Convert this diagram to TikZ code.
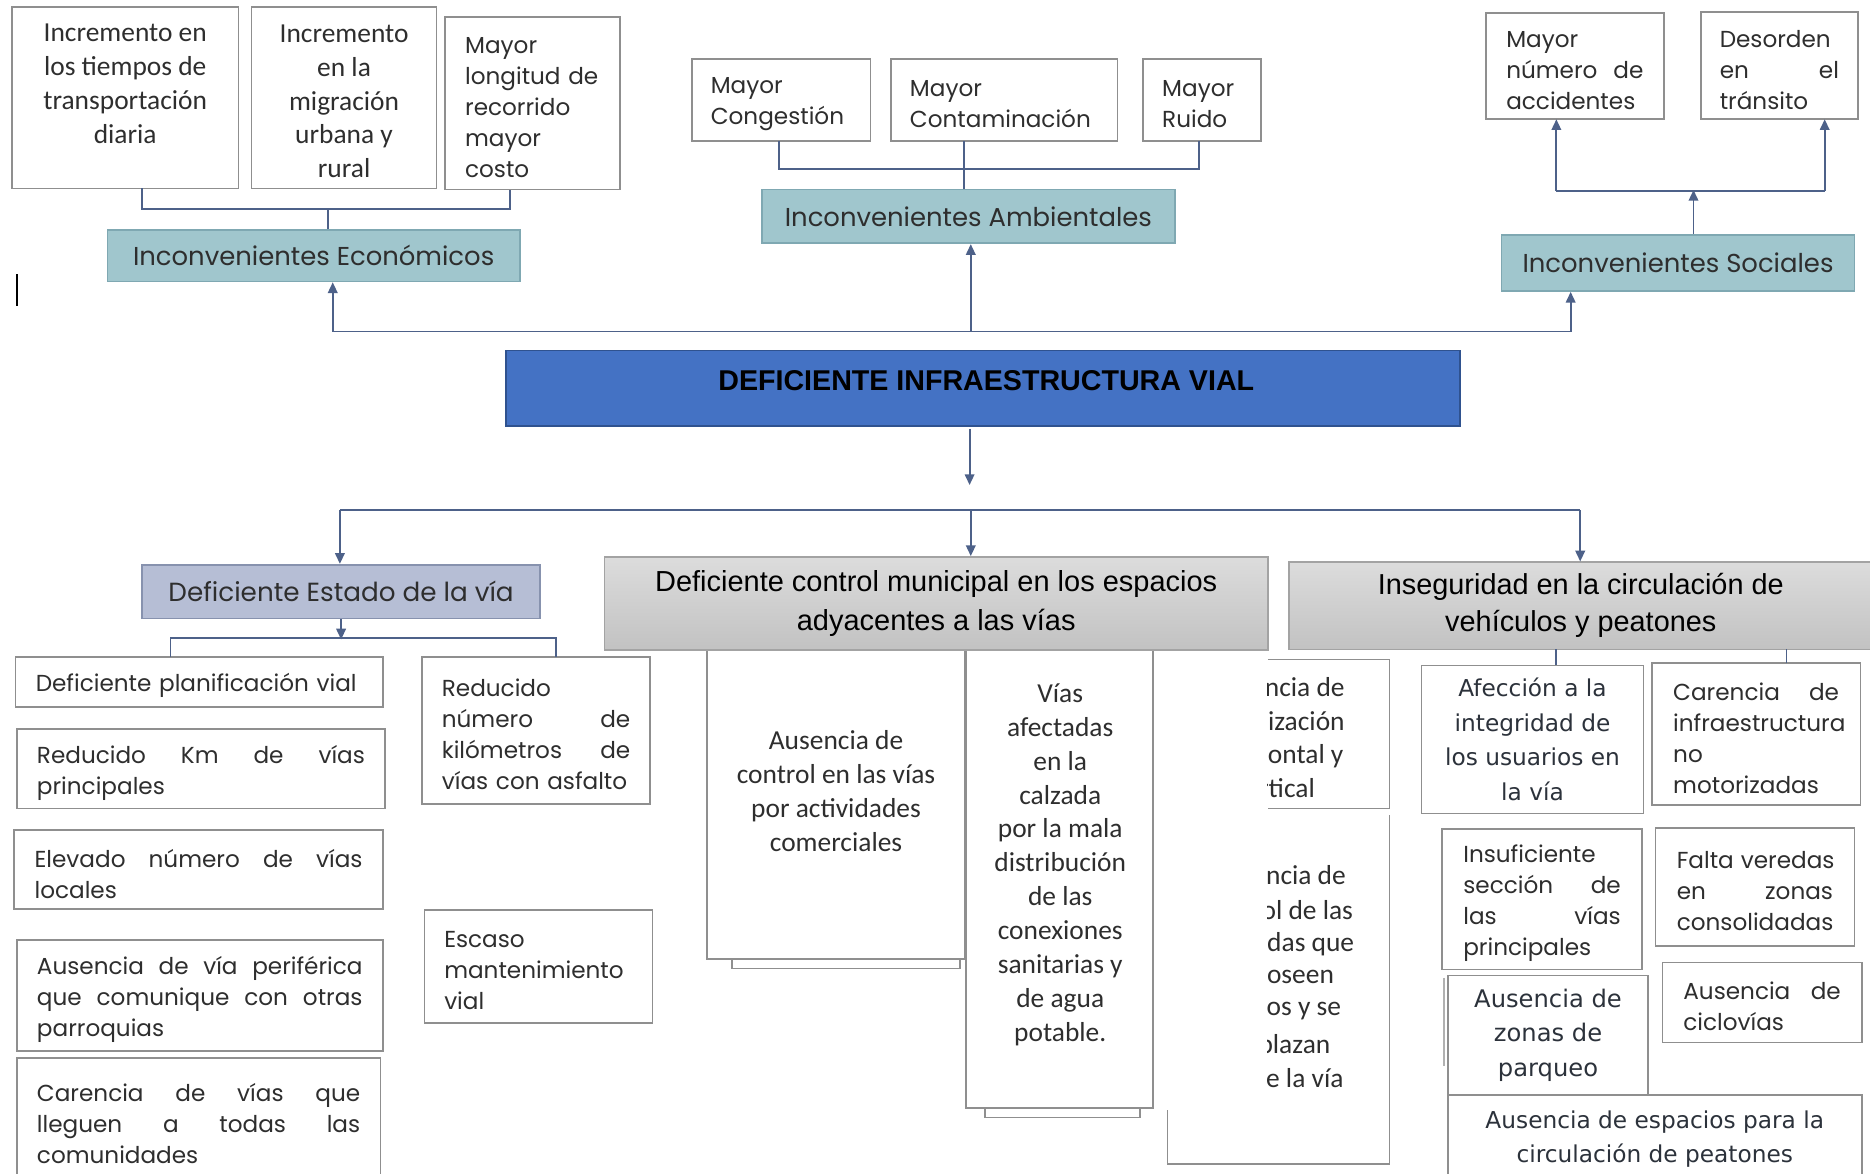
\documentclass[tikz,border=0pt]{standalone}
\usepackage{fontspec}
\setmainfont{Carlito}
\newfontfamily\cgf{Poppins}
\newfontfamily\arialf{Liberation Sans}
\newfontfamily\verdf{DejaVu Sans}
\usetikzlibrary{arrows.meta,calc}
\definecolor{conc}{HTML}{4D6189}
\definecolor{bxc}{HTML}{8F8F8F}
\definecolor{tealf}{HTML}{A0C6CD}
\definecolor{teald}{HTML}{7FA8B2}
\definecolor{estf}{HTML}{B6BED5}
\definecolor{estd}{HTML}{8792AE}
\definecolor{mainf}{HTML}{4472C4}
\definecolor{maind}{HTML}{2F528F}
\definecolor{gtop}{HTML}{DCDCDC}
\definecolor{gbot}{HTML}{C2C2C2}
\definecolor{gd}{HTML}{A3A3A3}
\definecolor{txg}{HTML}{2E2E2E}
\definecolor{txv}{HTML}{2C323B}
\hyphenpenalty=10000
\exhyphenpenalty=10000
\newcommand{\jl}[2]{\leavevmode\hbox to #1pt{\spaceskip=0.3em plus 1fil\relax #2}}
\tikzset{
 bx/.style={draw=bxc, line width=1.4pt, fill=white, inner sep=0pt, outer sep=0pt},
 con/.style={draw=conc, line width=1.6pt},
 arr/.style={con, -{Triangle[length=9pt,width=8pt]}},
 hd/.style={draw=teald, fill=tealf, line width=1.4pt, inner sep=0pt, text=txg, font=\cgf\fontsize{21.7}{26}\selectfont},
 cgs/.style={text=txg, font=\cgf\fontsize{19.4}{26}\selectfont, execute at end node={\par\vspace{-7pt}}},
 cal/.style={text=txg, font=\fontsize{23}{28.4}\selectfont},
 vd/.style={text=txv, font=\verdf\fontsize{19.5}{29}\selectfont},
 gb/.style={draw=gd, line width=1.4pt, top color=gtop, bottom color=gbot, inner sep=0pt},
}
\begin{document}
\begin{tikzpicture}[x=1pt,y=-1pt]
\useasboundingbox (0,0) rectangle (1568,984);
\fill[white] (0,0) rectangle (1568,984);

% ---------- top left: economic ----------
\node[bx, minimum width=190pt, minimum height=152pt] (a1) at (105,82) {};
\node[cal, align=center] (a1t) at (105,70.5) {Incremento en\\los tiempos de\\transportación\\diaria};
\node[bx, minimum width=155pt, minimum height=152pt] (a2) at (288.5,82) {};
\node[cal, align=center] (a2t) at (288.5,85) {Incremento\\en la\\migración\\urbana y\\rural};
\node[bx, cgs, align=left, text width=113pt, minimum width=147pt, minimum height=145pt] (a3) at (446.5,86.5) {Mayor\\longitud de\\recorrido\\mayor\\costo};
\node[hd, minimum width=346pt, minimum height=43pt] (econ) at (263,214.5) {Inconvenientes Económicos};
\draw[black, line width=1.5pt] (14,230) -- (14,257);

% ---------- top middle: environmental ----------
\node[bx, cgs, align=left, text width=118pt, minimum width=150pt, minimum height=69pt] (b1) at (655,84) {Mayor\\Congestión};
\node[bx, cgs, align=left, text width=158pt, minimum width=190pt, minimum height=69pt] (b2) at (842,84) {Mayor\\Contaminación};
\node[bx, cgs, align=left, text width=67pt, minimum width=99pt, minimum height=69pt] (b3) at (1008,84) {Mayor\\Ruido};
\node[hd, minimum width=346pt, minimum height=45pt] (amb) at (812,181.5) {Inconvenientes Ambientales};

% ---------- top right: social ----------
\node[bx, cgs, align=left, text width=115pt, minimum width=149pt, minimum height=89pt] (c1) at (1320.5,55.5) {Mayor\\\jl{115}{número de}\\accidentes};
\node[bx, cgs, align=left, text width=100pt, minimum width=132pt, minimum height=90pt] (c2) at (1492,55) {Desorden\\\jl{100}{en el}\\tránsito};
\node[hd, minimum width=296pt, minimum height=47pt] (soc) at (1407,220.5) {Inconvenientes Sociales};

% ---------- central problem ----------
\node[draw=maind, fill=mainf, line width=1.4pt, minimum width=800pt, minimum height=63pt] (main) at (824,325.5) {};
\node[font=\arialf\bfseries\fontsize{24}{28}\selectfont, text=black] (maint) at (827,319) {DEFICIENTE INFRAESTRUCTURA VIAL};

% ---------- left branch ----------
\node[draw=estd, fill=estf, line width=1.4pt, text=txg, font=\cgf\fontsize{22}{26}\selectfont, minimum width=334pt, minimum height=45pt] (estado) at (286,496) {Deficiente Estado de la vía};
\node[bx, cgs, align=left, text width=274pt, minimum width=308pt, minimum height=42pt] (d1) at (167,572) {Deficiente planificación vial};
\node[bx, cgs, align=left, text width=275pt, minimum width=309pt, minimum height=67pt] (d2) at (168.5,644.5) {\jl{275}{Reducido Km de vías}\\principales};
\node[bx, cgs, align=left, text width=275pt, minimum width=309pt, minimum height=66pt] (d3) at (166.5,729) {\jl{275}{Elevado número de vías}\\locales};
\node[bx, cgs, align=left, text width=273pt, minimum width=307pt, minimum height=93pt] (d4) at (167.5,834.5) {\jl{273}{Ausencia de vía periférica}\\\jl{273}{que comunique con otras}\\parroquias};
\node[bx, cgs, align=left, text width=271pt, minimum width=305pt, minimum height=103pt] (d5) at (166.5,938.5) {\jl{271}{Carencia de vías que}\\\jl{271}{lleguen a todas las}\\comunidades};
\node[bx, cgs, align=left, text width=158pt, minimum width=191pt, minimum height=123pt] (d6) at (449.5,612.5) {Reducido\\\jl{158}{número de}\\\jl{158}{kilómetros de}\\vías con asfalto};
\node[bx, cgs, align=left, text width=158pt, minimum width=191pt, minimum height=95pt] (d7) at (451.5,810.5) {Escaso\\mantenimiento\\vial};

% ---------- middle branch ----------
\node[bx, minimum width=191pt, minimum height=272pt] (e1b) at (709.5,676) {};
\node[bx, minimum width=216pt, minimum height=264pt] (e1) at (701,672) {};
\node[cal, align=center] (e1t) at (701,663.5) {Ausencia de\\control en las vías\\por actividades\\comerciales};
\node[bx, minimum width=130pt, minimum height=397pt] (e2b) at (891,738.5) {};
\node[bx, minimum width=157pt, minimum height=389pt] (e2) at (888.5,734.5) {};
\node[cal, align=center] (e2t) at (889,725) {Vías\\afectadas\\en la\\calzada\\por la mala\\distribución\\de las\\conexiones\\sanitarias y\\de agua\\potable.};
\draw[bxc, line width=1.4pt] (1063,553) -| (1165,678) -- (1063,678);
\draw[bxc, line width=1.4pt] (979,931) |- (1165,976) -- (1165,683);
\begin{scope}
\clip (1063,545) rectangle (1163,990);
\node[cal, anchor=east] (e3a) at (1131,576) {ncia de};
\node[cal, anchor=east] (e3b) at (1131,605) {ización};
\node[cal, anchor=east] (e3c) at (1130,634) {ontal y};
\node[cal, anchor=east] (e3d) at (1106,661) {rtical};
\node[cal, anchor=east] (e3e) at (1132,734) {ncia de};
\node[cal, anchor=east] (e3f) at (1138,763) {ol de las};
\node[cal, anchor=east] (e3g) at (1139,792) {das que};
\node[cal, anchor=east] (e3h) at (1122,819) {oseen};
\node[cal, anchor=east] (e3i) at (1128,848) {os y se};
\node[cal, anchor=east] (e3j) at (1119,877) {plazan};
\node[cal, anchor=east] (e3k) at (1130,904) {e la vía};
\end{scope}
\node[gb, minimum width=556pt, minimum height=78pt, font=\arialf\fontsize{24.3}{33}\selectfont, align=center, text=black] (ctrl) at (785,506) {Deficiente control municipal en los espacios\\adyacentes a las vías};

% ---------- right branch ----------
\node[gb, minimum width=489pt, minimum height=73pt, font=\arialf\fontsize{24.2}{31}\selectfont, text=black, align=center] (inseg) at (1325.5,508) {Inseguridad en la circulación de\\vehículos y peatones};
\node[bx, vd, align=center, minimum width=186pt, minimum height=124pt] (f1) at (1285,620) {Afección a la\\integridad de\\los usuarios en\\la vía};
\node[bx, cgs, align=left, text width=139pt, minimum width=175pt, minimum height=119pt] (f2) at (1472.5,615.5) {\jl{139}{Carencia de}\\infraestructura\\no\\motorizadas};
\node[bx, cgs, align=left, text width=132pt, minimum width=168pt, minimum height=118pt] (f3) at (1293,754) {Insuficiente\\\jl{132}{sección de}\\\jl{132}{las vías}\\principales};
\node[bx, cgs, align=left, text width=131pt, minimum width=167pt, minimum height=99pt] (f4) at (1471.5,743.5) {\jl{131}{Falta veredas}\\\jl{131}{en zonas}\\consolidadas};
\node[bx, cgs, align=left, text width=132pt, minimum width=167pt, minimum height=67pt] (f6) at (1477.5,840.5) {\jl{132}{Ausencia de}\\ciclovías};
\draw[bxc!70, line width=1.2pt] (1210.8,820) -- (1210.8,894);
\node[bx, vd, font=\verdf\fontsize{20.3}{29}\selectfont, align=center, minimum width=168pt, minimum height=100pt] (f5) at (1298,868) {Ausencia de\\zonas de\\parqueo};
\node[bx, vd, align=center, minimum width=347pt, minimum height=74pt] (f7) at (1387.5,955) {Ausencia de espacios para la\\circulación de peatones};

% ---------- connectors ----------
\draw[con] ($(a1.south)+(14,0)$) -- ++(0,17) -| ($(a3.south)+(-18.5,0)$);
\draw[con] ($(econ.north)+(12,0)$) -- ++(0,-18);
\draw[con] ($(b1.south)+(-1.5,0)$) -- ++(0,23) -| ($(b3.south)+(-3,0)$);
\draw[con] ($(b2.south)+(-34,0)$) -- ($(amb.north)+(-4,0)$);
\draw[arr] ($(soc.north)+(13,0)$) -- ++(0,-37);
\draw[con] ($(c1.south)+(-15.5,60)$) -- ($(c2.south)+(38,60)$);
\draw[arr] ($(c1.south)+(-15.5,60)$) -- ($(c1.south)+(-15.5,0)$);
\draw[arr] ($(c2.south)+(38,60)$) -- ($(c2.south)+(38,0)$);

\coordinate (barL) at (279,278);
\coordinate (barM) at (814,278);
\coordinate (barR) at (1317,278);
\draw[con] (barL) -- (barR);
\draw[arr] (barL) -- (barL |- econ.south);
\draw[arr] (barM) -- (barM |- amb.south);
\draw[arr] (barR) -- (barR |- soc.south);

\draw[arr] ($(main.south)+(-11,2)$) -- ++(0,47);
\coordinate (bar2L) at (285,428);
\coordinate (bar2M) at (814,428);
\coordinate (bar2R) at (1325,428);
\draw[con] (bar2L) -- (bar2R);
\draw[arr] (bar2L) -- (bar2L |- estado.north);
\draw[arr] (bar2M) -- (bar2M |- ctrl.north);
\draw[arr] (bar2R) -- (bar2R |- inseg.north);

\draw[arr] (estado.south) -- ++(0,17);
\draw[con] ($(d1.north)+(-24,0)$) |- ($(d6.north)+(16.5,-16)$) -- ($(d6.north)+(16.5,0)$);

\draw[con] ($(f1.north)+(20,0)$) -- ($(f1.north)+(20,-14)$);
\draw[con] ($(f2.north)+(25.5,0)$) -- ($(f2.north)+(25.5,-12)$);
\end{tikzpicture}
\end{document}
